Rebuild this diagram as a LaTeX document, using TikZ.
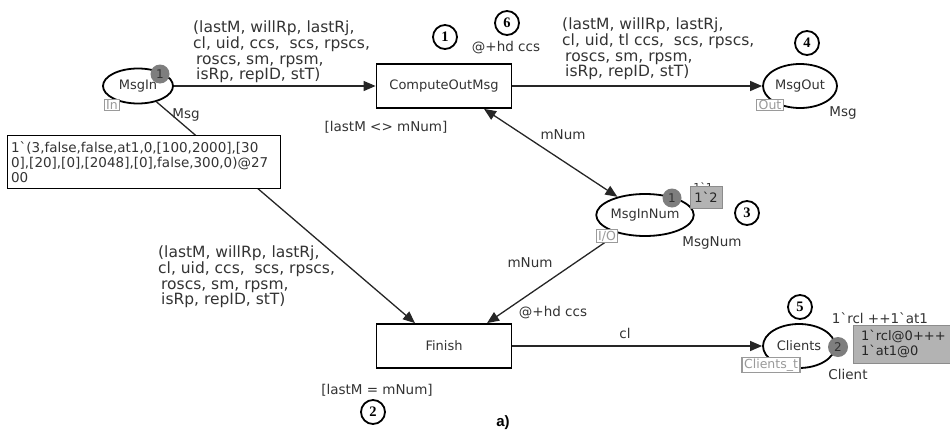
\documentclass[tikz,border=0pt]{standalone}
\usepackage{fontspec}
\setmainfont{DejaVu Sans}
\newfontfamily\numfont{Liberation Serif}
\newfontfamily\capfont{Liberation Sans}
\usetikzlibrary{arrows.meta,shapes.geometric,calc}
\definecolor{txt}{HTML}{333333}
\definecolor{tagc}{HTML}{9A9A9A}
\definecolor{tokc}{HTML}{7E7E7E}
\definecolor{markc}{HTML}{B3B3B3}
\newcommand\bq{\symbol{"02CB}}
\tikzset{
  lbl/.style={font=\fontsize{13.5}{15}\selectfont, text=txt, inner sep=0pt},
  inscr/.style={font=\fontsize{15.5}{15.6}\selectfont, text=txt, inner sep=0pt,
    anchor=north west, align=left},
  place/.style={ellipse, draw=black, line width=1.8pt, fill=white, inner sep=0pt,
    font=\fontsize{13}{15}\selectfont, text=txt},
  trans/.style={rectangle, draw=black, line width=1.8pt, fill=white,
    minimum width=135pt, minimum height=44pt, font=\fontsize{13}{15}\selectfont, text=txt},
  arc/.style={line width=1.3pt, draw=black!85, -{Triangle[length=12pt,width=10pt]}},
  biarc/.style={line width=1.3pt, draw=black!85,
    {Triangle[length=12pt,width=10pt]}-{Triangle[length=12pt,width=10pt]}},
  tag/.style={draw=tagc, fill=white, text=tagc, line width=1.2pt, inner xsep=2pt, inner ysep=1pt,
    font=\fontsize{12.5}{12.5}\selectfont},
  token/.style={circle, fill=tokc, text=black!80, inner sep=0pt, minimum size=19pt,
    font=\fontsize{12}{12}\selectfont},
  marking/.style={draw=black!45, fill=markc, text=black!85, line width=0.8pt,
    inner sep=3pt, align=left, font=\fontsize{13}{15}\selectfont},
  badge/.style={circle, draw=black, line width=1.8pt, minimum size=24pt, inner sep=0pt,
    font=\numfont\bfseries\fontsize{14.5}{14.5}\selectfont},
}
\begin{document}
\begin{tikzpicture}[x=1pt,y=-1pt]
\useasboundingbox (0,0) rectangle (950,431);

% places and transitions
\node[place, minimum width=70pt, minimum height=35pt] (MsgIn) at (138,86) {MsgIn};
\node[trans] (Compute) at (444,86) {ComputeOutMsg};
\node[place, minimum width=74pt, minimum height=44pt] (MsgOut) at (800,86) {MsgOut};
\node[place, minimum width=96pt, minimum height=42pt] (MsgInNum) at (645,215) {MsgInNum};
\node[trans] (Finish) at (444,346) {Finish};
\node[place, minimum width=72pt, minimum height=44pt] (Clients) at (799,346) {Clients};

% arcs
\draw[arc] (MsgIn) -- (Compute);
\draw[arc] (Compute) -- (MsgOut);
\draw[arc] (MsgIn) -- ([xshift=-29pt]Finish.north);
\draw[biarc] ([xshift=40pt]Compute.south) -- (MsgInNum);
\draw[arc] (MsgInNum) -- ([xshift=43pt]Finish.north);
\draw[arc] (Finish) -- (Clients);

% initial marking of MsgIn
\node[draw=black, line width=1.2pt, fill=white, anchor=north west, minimum width=273pt,
  minimum height=53pt, text width=266pt, inner sep=3pt, align=left,
  font=\fontsize{13.5}{15}\selectfont, text=txt] (initIn) at (7,135)
  {1\bq(3,false,false,at1,0,[100,2000],[30\\0],[20],[0],[2048],[0],false,300,0)@27\\00};

% port tags
\node[tag] (tagIn) at (112,105) {In};
\node[tag] (tagOut) at (770,105) {Out};
\node[tag] (tagIO) at (607,236) {I/O};
\node[tag] (tagCl) at (771,365) {Clients\_t};

% colour sets
\node[lbl] (csIn) at (186,115) {Msg};
\node[lbl] (csOut) at (843,113) {Msg};
\node[lbl] (csNum) at (712,243) {MsgNum};
\node[lbl] (csCl) at (848,374) {Client};

% tokens and current markings
\node[token] (tkIn) at (160,74) {1};
\node[font=\fontsize{11}{11}\selectfont, text=txt, inner sep=0pt] (oldNum) at (703,187) {1\bq1};
\node[marking, minimum width=32pt, minimum height=22pt, inner sep=1pt] (mkNum) at (706,197) {1\bq2};
\node[token] (tkNum) at (672,198) {1};
\node[marking, anchor=north west, minimum width=100pt, minimum height=38pt] (mkCl) at (853,325)
  {1\bq rcl@0+++\\1\bq at1@0};
\node[token, minimum size=20pt] (tkCl) at (838,347) {2};
\node[lbl] (initCl) at (880,318) {1\bq rcl ++1\bq at1};

% arc inscriptions
\node[inscr] (insA) at (193,21)
  {(lastM, willRp, lastRj,\\cl, uid, ccs,\ \ scs, rpscs,\\\hspace*{3pt}roscs, sm, rpsm,\\\hspace*{3pt}isRp, repID, stT)};
\node[inscr] (insB) at (562,18)
  {(lastM, willRp, lastRj,\\cl, uid, tl ccs,\ \ scs, rpscs,\\\hspace*{3pt}roscs, sm, rpsm,\\\hspace*{3pt}isRp, repID, stT)};
\node[inscr] (insC) at (158,246)
  {(lastM, willRp, lastRj,\\cl, uid, ccs,\ \ scs, rpscs,\\\hspace*{3pt}roscs, sm, rpsm,\\\hspace*{3pt}isRp, repID, stT)};
\node[lbl] (insD) at (563,135) {mNum};
\node[lbl] (insE) at (530,263) {mNum};
\node[lbl] (insF) at (625,333) {cl};

% time delays and guards
\node[lbl] (delayA) at (506,48) {@+hd ccs};
\node[lbl] (delayB) at (553,313) {@+hd ccs};
\node[lbl] (guardA) at (386,127) {[lastM <> mNum]};
\node[lbl] (guardB) at (377,390) {[lastM = mNum]};

% numbered callouts
\node[badge] (n1) at (445,37) {1};
\node[badge] (n6) at (507,23) {6};
\node[badge] (n4) at (807,43) {4};
\node[badge] (n3) at (747,213) {3};
\node[badge] (n5) at (800,307) {5};
\node[badge] (n2) at (373,412) {2};

\node[font=\capfont\bfseries\fontsize{15}{15}\selectfont, inner sep=0pt] (cap) at (503,423) {a)};
\end{tikzpicture}
\end{document}
